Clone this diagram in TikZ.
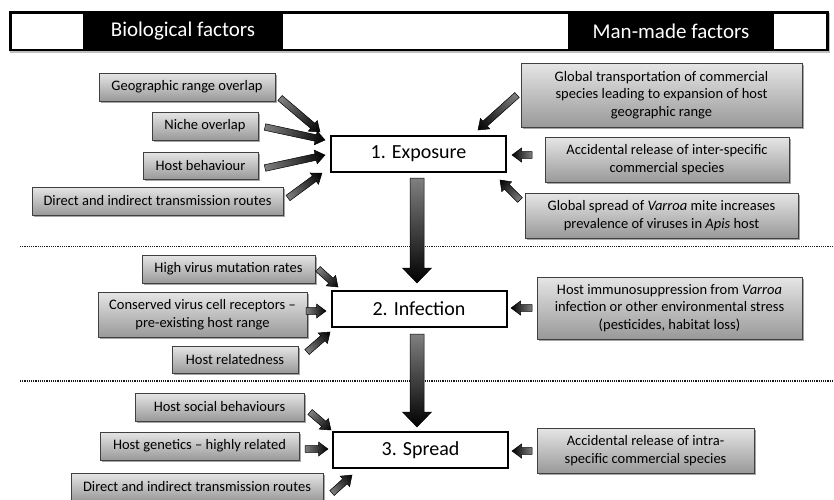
\documentclass[tikz,border=0pt]{standalone}
\usepackage{fontspec}
\setmainfont{Carlito}
\usetikzlibrary{shadows,calc}
\definecolor{arrgray}{gray}{0.5}
\definecolor{boxtop}{gray}{0.9}
\definecolor{boxbot}{gray}{0.6}
\tikzset{
  factor/.style={draw=black!75, line width=0.8pt, top color=boxtop, bottom color=boxbot,
    drop shadow={shadow xshift=1.6pt, shadow yshift=-1.6pt, opacity=0.35, fill=black},
    font=\fontsize{14.5}{17.5}\selectfont, align=center, inner sep=0pt},
  stage/.style={draw=black, line width=2pt, fill=white,
    drop shadow={shadow xshift=1.2pt, shadow yshift=-1.2pt, opacity=0.25, fill=black},
    font=\fontsize{20}{22}\selectfont, inner sep=0pt, minimum width=175pt, minimum height=36pt},
  sepline/.style={black!90, line width=1.5pt, dash pattern=on 1.1pt off 1.1pt},
  bannertext/.style={text=white, font=\fontsize{21}{24}\selectfont, inner sep=0pt},
  whitecell/.style={fill=white, draw=none, inner sep=0pt},
}
% block arrow from #1 to #2: shaft half width #3, head half width #4, head length #5
\newcommand\fatarrow[5]{%
  \pgfpointdiff{\pgfpointanchor{#1}{center}}{\pgfpointanchor{#2}{center}}%
  \pgfgetlastxy{\fdx}{\fdy}%
  \pgfmathsetmacro\flen{veclen(\fdx,\fdy)}%
  \pgfmathsetmacro\fang{atan2(\fdy,\fdx)}%
  \pgfmathsetmacro\fbase{\flen-#5}%
  \begin{scope}[transform canvas={shift={(#1)},rotate=\fang}]
    \shade[left color=arrgray, right color=black, draw=black, line width=0.5pt, line join=miter]
      (0pt,-#3pt) -- (\fbase pt,-#3pt) -- (\fbase pt,-#4pt) -- (\flen pt,0pt)
      -- (\fbase pt,#4pt) -- (\fbase pt,#3pt) -- (0pt,#3pt) -- cycle;
  \end{scope}}
\newcommand\smallarrow[2]{\fatarrow{#1}{#2}{3.3}{7}{9.5}}
\newcommand\bigarrow[2]{\fatarrow{#1}{#2}{7}{14.5}{15}}
\begin{document}
\begin{tikzpicture}[x=1pt,y=-1pt]
\useasboundingbox (0,0) rectangle (834,499);

% banner
\node[fill=black, inner sep=0pt, minimum width=820pt, minimum height=40pt,
  drop shadow={shadow xshift=1pt, shadow yshift=-1.5pt, opacity=0.25, fill=black}] (banner) at (419,31) {};
\node[whitecell, minimum width=71pt, minimum height=35pt] (w1) at (47.5,31) {};
\node[whitecell, minimum width=285pt, minimum height=35pt] (w2) at (425.5,31) {};
\node[whitecell, minimum width=52pt, minimum height=35pt] (w3) at (800,31) {};
\node[bannertext] (bio) at (183,31) {Biological factors};
\node[bannertext] (man) at (671,31) {Man-made factors};

% separators
\coordinate (s1a) at (20,246.5); \coordinate (s1b) at (834,246.5);
\coordinate (s2a) at (20,381); \coordinate (s2b) at (834,381);
\draw[sepline] (s1a) -- (s1b);
\draw[sepline] (s2a) -- (s2b);

% stage boxes
\node[stage] (exp) at (418.5,154) {1. Exposure};
\node[stage] (inf) at (419,309) {2. Infection};
\node[stage] (spr) at (420.5,450) {3. Spread};

% exposure factors
\node[factor, minimum width=176pt, minimum height=28pt] (g1) at (187,87) {Geographic range overlap};
\node[factor, minimum width=106pt, minimum height=28pt] (g2) at (205,126) {Niche overlap};
\node[factor, minimum width=115pt, minimum height=27pt] (g3) at (200.5,165.5) {Host behaviour};
\node[factor, minimum width=251pt, minimum height=28pt] (g4) at (157.5,201) {Direct and indirect transmission routes};
\node[factor, minimum width=281pt, minimum height=64pt] (r1) at (661.5,95) {Global transportation of commercial\\species leading to expansion of host\\geographic range};
\node[factor, minimum width=244pt, minimum height=45pt] (r2) at (667,159.5) {Accidental release of inter-specific\\commercial species};
\node[factor, minimum width=273pt, minimum height=45pt] (r3) at (661.5,215.5) {Global spread of \textit{Varroa} mite increases\\prevalence of viruses in \textit{Apis} host};

% infection factors
\node[factor, minimum width=173pt, minimum height=28pt] (h1) at (228.5,269) {High virus mutation rates};
\node[factor, minimum width=209pt, minimum height=45pt] (h2) at (202.5,314.5) {Conserved virus cell receptors --\\pre-existing host range};
\node[factor, minimum width=126pt, minimum height=27pt] (h3) at (235,359.5) {Host relatedness};
\node[factor, minimum width=265pt, minimum height=62pt] (h4) at (669.5,308) {Host immunosuppression from \textit{Varroa}\\infection or other environmental stress\\(pesticides, habitat loss)};

% spread factors
\node[factor, minimum width=169pt, minimum height=28pt] (k1) at (219.5,407) {Host social behaviours};
\node[factor, minimum width=199pt, minimum height=28pt] (k2) at (199.5,446) {Host genetics -- highly related};
\node[factor, minimum width=252pt, minimum height=28pt] (k3) at (197,487) {Direct and indirect transmission routes};
\node[factor, minimum width=217pt, minimum height=45pt] (k4) at (645.5,450.5) {Accidental release of intra-\\specific commercial species};

% arrow end points
\coordinate (a1s) at (280,98);  \coordinate (a1e) at (320,132);
\coordinate (a2s) at (265,127); \coordinate (a2e) at (325,140);
\coordinate (a3s) at (265,168); \coordinate (a3e) at (325,155);
\coordinate (a4s) at (288,198); \coordinate (a4e) at (322,173);
\coordinate (b1s) at (517,95);  \coordinate (b1e) at (478,130);
\coordinate (b2s) at (532,155); \coordinate (b2e) at (512,155);
\coordinate (b3s) at (520,200); \coordinate (b3e) at (500,180);
\coordinate (c1s) at (318,269); \coordinate (c1e) at (338,287);
\coordinate (c2s) at (306,311); \coordinate (c2e) at (326,311);
\coordinate (c3s) at (307,352); \coordinate (c3e) at (330,332);
\coordinate (c4s) at (532,308); \coordinate (c4e) at (511,308);
\coordinate (d1s) at (310,412); \coordinate (d1e) at (331,430);
\coordinate (d2s) at (305,449); \coordinate (d2e) at (328,449);
\coordinate (d3s) at (332,493); \coordinate (d3e) at (352,475);
\coordinate (d4s) at (532,451); \coordinate (d4e) at (512,451);
\coordinate (m1s) at (417,178); \coordinate (m1e) at (417,283);
\coordinate (m2s) at (417,334); \coordinate (m2e) at (417,427);

\smallarrow{a1s}{a1e}
\smallarrow{a2s}{a2e}
\smallarrow{a3s}{a3e}
\smallarrow{a4s}{a4e}
\smallarrow{b1s}{b1e}
\smallarrow{b2s}{b2e}
\smallarrow{b3s}{b3e}
\smallarrow{c1s}{c1e}
\smallarrow{c2s}{c2e}
\smallarrow{c3s}{c3e}
\smallarrow{c4s}{c4e}
\smallarrow{d1s}{d1e}
\smallarrow{d2s}{d2e}
\smallarrow{d3s}{d3e}
\smallarrow{d4s}{d4e}
\bigarrow{m1s}{m1e}
\bigarrow{m2s}{m2e}
\end{tikzpicture}
\end{document}
